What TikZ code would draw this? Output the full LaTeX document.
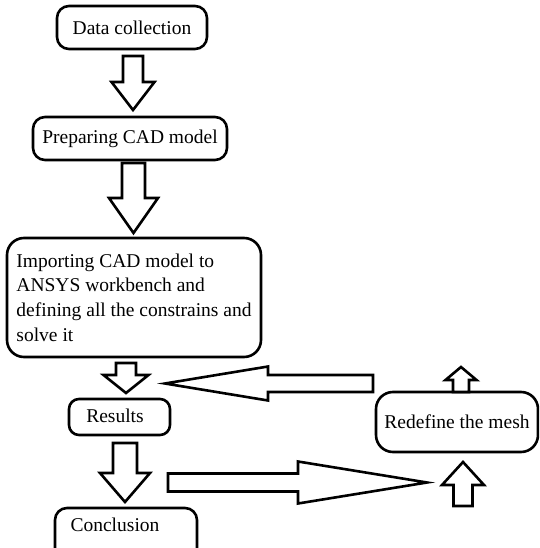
\documentclass[tikz,border=0pt]{standalone}
\usepackage{fontspec}
\setmainfont{Liberation Serif}
\newcommand{\vblk}[6]{% xc, y0, yb, yt, s, h
  \draw[blockarrow] (#1-#5,#2) -- (#1-#5,#3) -- (#1-#6,#3) -- (#1,#4) -- (#1+#6,#3) -- (#1+#5,#3) -- (#1+#5,#2) -- cycle;}
\newcommand{\hblk}[6]{% yc, x0, xb, xt, s, h
  \draw[blockarrow] (#2,#1-#5) -- (#3,#1-#5) -- (#3,#1-#6) -- (#4,#1) -- (#3,#1+#6) -- (#3,#1+#5) -- (#2,#1+#5) -- cycle;}
\begin{document}
\begin{tikzpicture}[x=1pt,y=-1pt,
  box/.style={draw, line width=2.6pt, rounded corners=12pt, inner sep=0pt,
    font=\fontsize{19.5}{24.6}\selectfont},
  txt/.style={inner sep=0pt, font=\fontsize{19.5}{24.6}\selectfont},
  blockarrow/.style={draw, line width=2.6pt, fill=white, line join=miter}]
\useasboundingbox (0,0) rectangle (539,548);
\clip (0,0) rectangle (539,548);

\node[box, minimum width=150pt, minimum height=43pt] (data) at (132,27.5) {Data collection};
\node[box, minimum width=194pt, minimum height=43pt] (prep) at (130,138.5) {Preparing CAD model};
\node[box, rounded corners=17pt, minimum width=254pt, minimum height=119pt, align=left] (imp) at (134,297.5)
  {Importing CAD model to\\ANSYS workbench and\\defining all the constrains and\\solve it};
\node[box, rounded corners=10pt, minimum width=101pt, minimum height=36pt] (res) at (119.5,417) {};
\node[txt] (rest) at (115,416) {Results};
\node[box, minimum width=142pt, minimum height=52pt] (conc) at (126,534) {};
\node[txt] (conct) at (115,525) {Conclusion};
\node[box, rounded corners=17pt, minimum width=162pt, minimum height=60pt] (mesh) at (457,422) {Redefine the mesh};

\vblk{133}{56}{82}{110}{10}{21.5}
\vblk{133.5}{163}{198}{233}{11.5}{24.5}
\vblk{126}{363}{375}{393}{10}{22.5}
\vblk{125}{443}{473}{502}{12}{25}
\vblk{461}{392}{380}{367}{8}{15.5}
\vblk{463}{506}{485}{462}{9.5}{21}
\hblk{383.5}{373}{268}{165}{8.5}{17}
\hblk{482.5}{168}{298}{427}{9}{21}
\end{tikzpicture}
\end{document}
